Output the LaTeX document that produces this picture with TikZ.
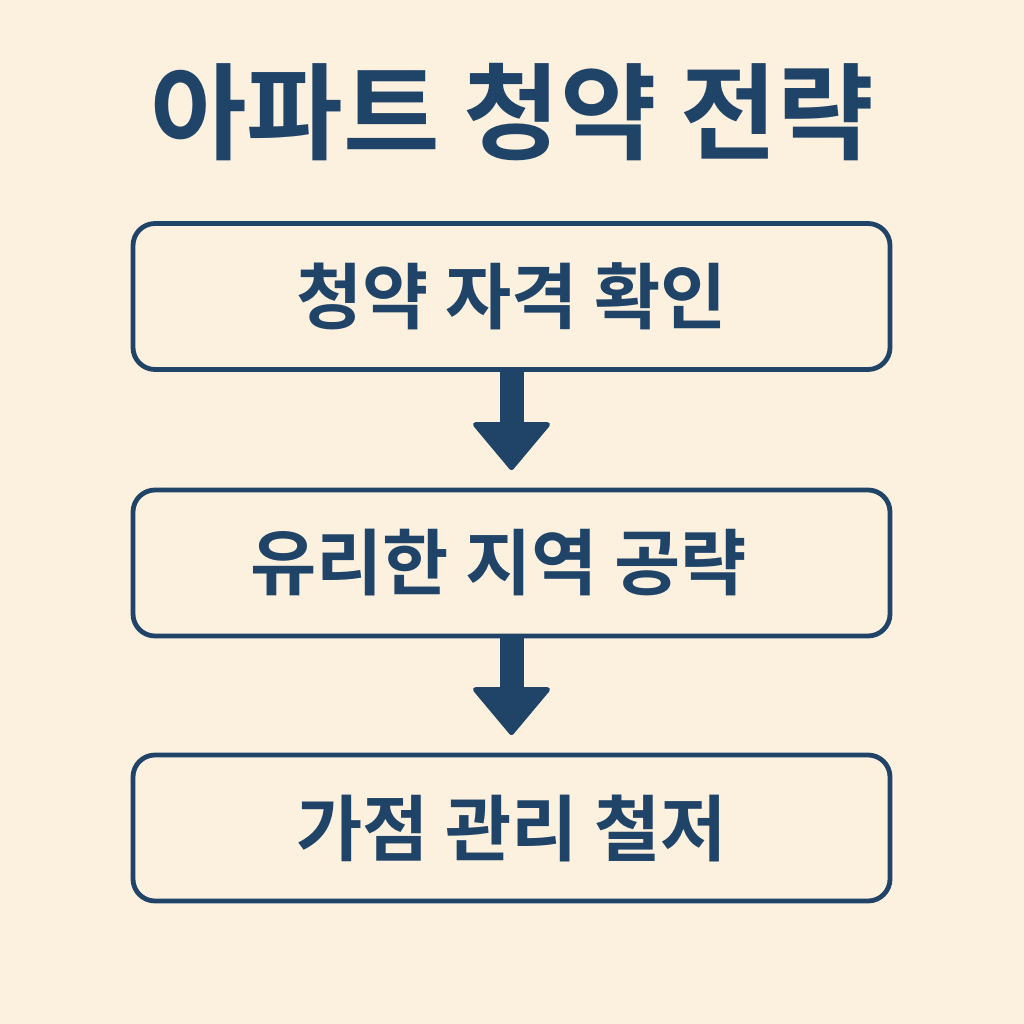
\documentclass[tikz,border=0pt]{standalone}
\usepackage{fontspec}
\newfontfamily\kr{Noto Sans CJK KR Bold}
\definecolor{navy}{HTML}{1F4468}
\definecolor{cream}{HTML}{FCF0DF}
\begin{document}
\begin{tikzpicture}[x=1pt,y=-1pt,
  stepbox/.style={draw=navy,line width=4.8pt,rounded corners=22pt,fill=cream,minimum width=757pt,minimum height=146pt,inner sep=0pt},
  boxtext/.style={text=navy,font=\kr\fontsize{72}{76}\selectfont},
  flowarrow/.style={fill=navy,draw=navy,line width=5pt,line join=round}]
\fill[cream] (0,0) rectangle (1024,1024);
\useasboundingbox (0,0) rectangle (1024,1024);
\node[text=navy,font=\kr\fontsize{105}{112}\selectfont] (title) at (512,112) {아파트 청약 전략};
\node[stepbox] (b1) at (511.5,296.5) {};
\node[stepbox] (b2) at (511.5,563) {};
\node[stepbox] (b3) at (511.5,828) {};
\node[boxtext] (t1) at (b1.center) {청약 자격 확인};
\node[boxtext] (t2) at ([xshift=-13pt]b2.center) {유리한 지역 공략};
\node[boxtext] (t3) at (b3.center) {가점 관리 철저};
% arrows
\foreach \a/\b in {b1/b2,b2/b3}{
  \path (\a.south) coordinate (s) (\b.north) coordinate (e);
  \fill[navy] ([xshift=-12pt]s) rectangle ([xshift=12pt,yshift=46pt]e);
  \filldraw[flowarrow] ([xshift=-36pt,yshift=63pt]e) -- ([xshift=36pt,yshift=63pt]e) -- ([yshift=20pt]e) -- cycle;
}
\end{tikzpicture}
\end{document}
